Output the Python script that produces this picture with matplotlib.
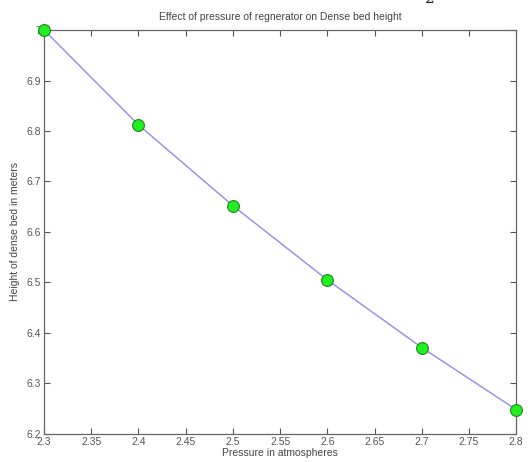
import matplotlib

matplotlib.use("Agg")
import matplotlib.pyplot as plt

# pressure (atm) vs dense bed height (m)
pressure = [2.3, 2.4, 2.5, 2.6, 2.7, 2.8]
bed_height = [7.0, 6.812, 6.652, 6.505, 6.371, 6.248]

xticks = [2.3, 2.35, 2.4, 2.45, 2.5, 2.55, 2.6, 2.65, 2.7, 2.75, 2.8]
xtick_labels = ["2.3", "2.35", "2.4", "2.45", "2.5", "2.55", "2.6", "2.65", "2.7", "2.75", "2.8"]
yticks = [6.2, 6.3, 6.4, 6.5, 6.6, 6.7, 6.8, 6.9, 7.0]
ytick_labels = ["6.2", "6.3", "6.4", "6.5", "6.6", "6.7", "6.8", "6.9", "7"]

plt.rcParams["font.family"] = ["Liberation Sans", "DejaVu Sans"]

fig = plt.figure(figsize=(5.31, 4.62), dpi=100)
ax = fig.add_axes([0.083, 0.061, 0.889, 0.874])

ax.plot(pressure, bed_height, color="#8c8cf0", lw=1.0, zorder=2)
ax.plot(pressure, bed_height, ls="none", marker="o", ms=8.5,
        mfc="#22ee22", mec="#1a8a1a", mew=0.8, zorder=3, clip_on=False)

ax.set_xlim(2.3, 2.8)
ax.set_ylim(6.2, 7.0)
ax.set_xticks(xticks)
ax.set_xticklabels(xtick_labels)
ax.set_yticks(yticks)
ax.set_yticklabels(ytick_labels)
ax.tick_params(direction="in", top=True, right=True, length=4, width=0.8,
               labelsize=7.5, colors="#555555", pad=2)
for s in ax.spines.values():
    s.set_color("#666666")
    s.set_linewidth(0.9)

ax.set_title("Effect of pressure of regnerator on Dense bed height",
             fontsize=7.5, color="#444444", pad=7)
ax.set_xlabel("Pressure in atmospheres", fontsize=7.5, color="#444444", labelpad=1)
ax.set_ylabel("Height of dense bed in meters", fontsize=7.5, color="#444444", labelpad=5)

# cut-off glyph from the page above the figure
fig.text(0.81, 0.994, "2", fontsize=11, family="DejaVu Serif", color="#222222",
         ha="center", va="baseline")

fig.savefig("out.png", dpi=100)
